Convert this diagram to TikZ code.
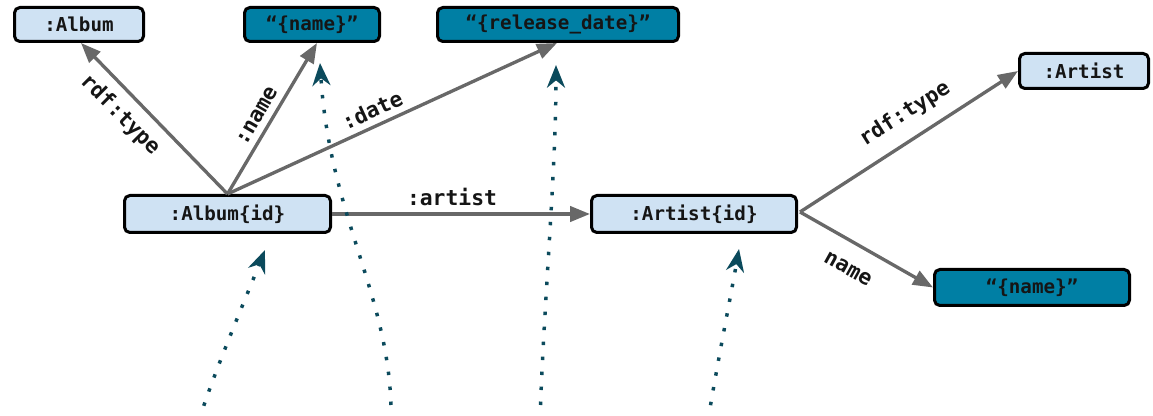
\documentclass[tikz,border=0pt]{standalone}
\usepackage{fontspec}
\setmonofont{DejaVu Sans Mono}
\usetikzlibrary{arrows.meta}
\definecolor{lightnode}{HTML}{CFE2F3}
\definecolor{tealnode}{HTML}{007FA4}
\definecolor{edgegray}{HTML}{686868}
\definecolor{dotteal}{HTML}{0B4A5C}
\definecolor{textdark}{HTML}{151515}
\tikzset{
  box/.style={draw=black, line width=2.25pt, rounded corners=4pt, inner sep=0pt,
    font=\ttfamily\bfseries\fontsize{14.4}{16}\selectfont, text=textdark},
  entity/.style={box, fill=lightnode},
  literal/.style={box, fill=tealnode},
  rel/.style={draw=edgegray, line width=2.5pt, -{Triangle[length=15pt,width=11.5pt]}},
  rellabel/.style={font=\ttfamily\bfseries\fontsize{16}{18}\selectfont, text=textdark, inner sep=0pt},
  mapping/.style={draw=dotteal, line width=2.6pt, dash pattern=on 2.6pt off 8.65pt,
    -{Stealth[length=17pt,width=13.5pt,inset=5.5pt]}}
}
\begin{document}
\begin{tikzpicture}[x=0.75pt,y=-0.75pt]
\useasboundingbox (0,0) rectangle (1153,416);
% nodes
\node[entity, minimum width=96.75pt, minimum height=25.5pt] (album) at (79,24.5) {:Album};
\node[literal, minimum width=101.25pt, minimum height=25.5pt] (aname) at (312,24.5) {“\{name\}”};
\node[literal, minimum width=180.75pt, minimum height=25.5pt] (reldate) at (558,24.5) {“\{release\_date\}”};
\node[entity, minimum width=154.5pt, minimum height=27.75pt] (albumid) at (227.5,214) {:Album\{id\}};
\node[entity, minimum width=153.75pt, minimum height=27.75pt] (artistid) at (694,214) {:Artist\{id\}};
\node[entity, minimum width=96.75pt, minimum height=26.25pt] (artist) at (1084,71) {:Artist};
\node[literal, minimum width=146.25pt, minimum height=27pt] (rname) at (1032,287.5) {“\{name\}”};
% edges
\coordinate (aroot) at (albumid.north);
\draw[rel] (aroot) -- ([xshift=1.5pt]album.south);
\draw[rel] (aroot) -- ([xshift=3.75pt]aname.south);
\draw[rel] (aroot) -- ([xshift=-0.75pt]reldate.south);
\draw[rel] (albumid.east) -- (artistid.west);
\coordinate (broot) at ([xshift=1.5pt, yshift=1.5pt]artistid.east);
\draw[rel] (broot) -- (artist.west);
\draw[rel] (broot) -- (rname.west);
% edge labels
\node[rellabel, rotate=-45] (l1) at (120,115) {rdf:type};
\node[rellabel, rotate=60] (l2) at (257,116) {:name};
\node[rellabel, rotate=24.6] (l3) at (372,110) {:date};
\node[rellabel] (l4) at (452,197) {:artist};
\node[rellabel, rotate=32.5] (l5) at (905,114) {rdf:type};
\node[rellabel, rotate=-29] (l6) at (848,269) {name};
% mapping arrows from below
\coordinate (m1) at (199,420);
\coordinate (m2) at (391,420);
\coordinate (m3) at (540,420);
\coordinate (m4) at (708,420);
\coordinate (t1) at (265,250);
\coordinate (t2) at (320,63);
\coordinate (t3) at (556,65);
\coordinate (t4) at (739,249);
\draw[mapping] (m1) .. controls (215,370) and (245,300) .. (t1);
\draw[mapping] (m2) .. controls (393,300) and (330,220) .. (t2);
\draw[mapping] (m3) .. controls (544,300) and (556,170) .. (t3);
\draw[mapping] (m4) .. controls (718,360) and (730,300) .. (t4);
\end{tikzpicture}
\end{document}
